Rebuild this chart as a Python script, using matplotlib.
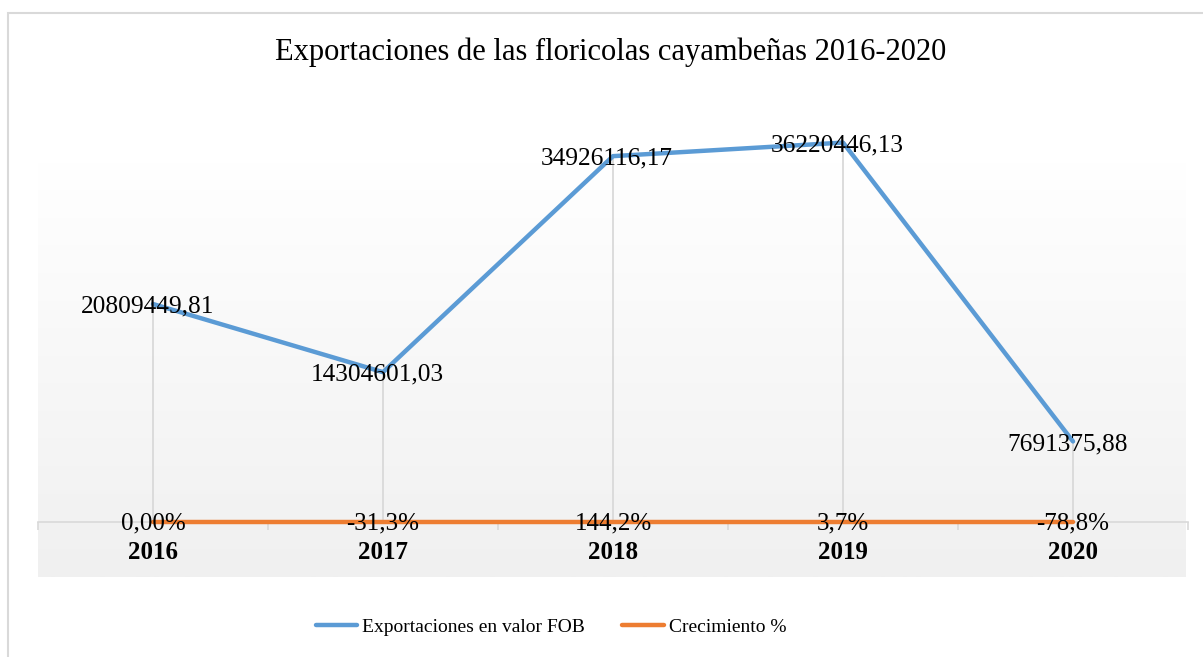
import matplotlib
matplotlib.use("Agg")
import matplotlib.pyplot as plt
import numpy as np
from matplotlib.patches import Rectangle

years = ["2016", "2017", "2018", "2019", "2020"]
exports = [20809449.81, 14304601.03, 34926116.17, 36220446.13, 7691375.88]
growth = [0.0, -0.313, 1.442, 0.037, -0.788]
export_labels = ["20809449,81", "14304601,03", "34926116,17", "36220446,13", "7691375,88"]
growth_labels = ["0,00%", "-31,3%", "144,2%", "3,7%", "-78,8%"]

W, H = 1203, 657
fig = plt.figure(figsize=(W / 100, H / 100), dpi=100)
plt.rcParams['font.family'] = ['Liberation Serif', 'DejaVu Serif']

def fx(px):
    return px / W

def fy(py):
    return 1 - py / H

# chart border
fig.patches.append(Rectangle((fx(8), fy(700)), fx(1250) - fx(8), fy(13) - fy(700),
                             transform=fig.transFigure, fill=False,
                             edgecolor='#d9d9d9', linewidth=1.5, zorder=0))

# gradient background of plot area
bg = fig.add_axes([fx(38), fy(577), fx(1186) - fx(38), fy(163) - fy(577)], zorder=0)
grad = np.linspace(0, 1, 256).reshape(-1, 1)
top = np.array([1.0, 1.0, 1.0])
bot = np.array([0xf0, 0xf0, 0xf0]) / 255.0
img = top[None, None, :] * (1 - grad[:, :, None]) + bot[None, None, :] * grad[:, :, None]
bg.imshow(img, aspect='auto', extent=[0, 1, 0, 1], origin='upper')
bg.axis('off')

# main axes: axis line at y=522, 0..40M, top at 103
ax = fig.add_axes([fx(38), fy(522), fx(1188) - fx(38), fy(103) - fy(522)], zorder=1)
ax.patch.set_alpha(0)
x = np.arange(len(years))
ax.set_xlim(-0.5, len(years) - 0.5)
ax.set_ylim(0, 40e6)
for s in ['top', 'right', 'left']:
    ax.spines[s].set_visible(False)
ax.spines['bottom'].set_color('#d9d9d9')
ax.spines['bottom'].set_linewidth(1.2)
ax.set_yticks([])
ax.set_xticks(np.arange(-0.5, len(years), 1.0), minor=False)
ax.set_xticklabels([])
ax.tick_params(axis='x', length=6, color='#d9d9d9', width=1.2)

# drop lines
for xi, v in zip(x, exports):
    ax.plot([xi, xi], [0, v], color='#d9d9d9', linewidth=1.3, zorder=1)

l1, = ax.plot(x, exports, color='#5B9BD5', linewidth=3.2, solid_capstyle='round',
              zorder=3, clip_on=False, label='Exportaciones en valor FOB')
l2, = ax.plot(x, growth, color='#ED7D31', linewidth=3.2, solid_capstyle='round',
              zorder=3, clip_on=False, label='Crecimiento %')

for xi, v, t in zip(x, exports, export_labels):
    ax.text(xi - 0.025, v - 0.25e6, t, ha='center', va='center', fontsize=18.3,
            color='black', zorder=4)
for xi, v, t in zip(x, growth, growth_labels):
    ax.text(xi, v - 0.1e6, t, ha='center', va='center', fontsize=18, color='black', zorder=4)

for xi, t in zip(x, years):
    ax.text(xi, -2.9e6, t, ha='center', va='center', fontsize=18, fontweight='bold',
            color='black')

fig.text(fx(611), fy(52), "Exportaciones de las floricolas cayambeñas 2016-2020",
         ha='center', va='center', fontsize=22, color='black')

leg = fig.legend(handles=[l1, l2], loc='center', bbox_to_anchor=(fx(551), fy(627)), ncol=2,
                 frameon=False, fontsize=14, handlelength=2.15, handletextpad=0.25,
                 columnspacing=1.9)

fig.savefig('out.png', dpi=100)
